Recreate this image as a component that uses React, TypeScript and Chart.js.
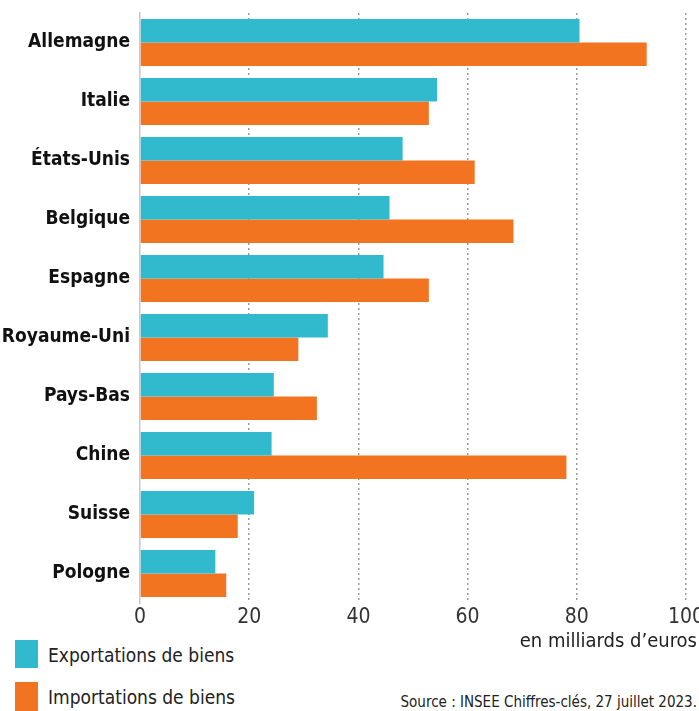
import { useEffect, useRef } from "react"
import { Chart, registerables } from "chart.js"

Chart.register(...registerables)

const countries = [
  "Allemagne",
  "Italie",
  "États-Unis",
  "Belgique",
  "Espagne",
  "Royaume-Uni",
  "Pays-Bas",
  "Chine",
  "Suisse",
  "Pologne",
]
const exportations = [80.5, 54.4, 48.1, 45.7, 44.6, 34.4, 24.5, 24.1, 20.9, 13.8]
const importations = [92.8, 52.9, 61.3, 68.4, 52.9, 29.0, 32.4, 78.1, 17.9, 15.8]
const xTicks = [0, 20, 40, 60, 80, 100]

const TEAL = "#31b9cd"
const ORANGE = "#f37420"
const FONT = "'Liberation Sans Narrow', 'DejaVu Sans Condensed', 'Roboto Condensed', sans-serif"

export default function App() {
  const canvasRef = useRef<HTMLCanvasElement>(null)
  const chartRef = useRef<Chart | null>(null)

  useEffect(() => {
    document.body.style.margin = "0"
    if (!canvasRef.current) return
    if (chartRef.current) chartRef.current.destroy()

    chartRef.current = new Chart(canvasRef.current, {
      type: "bar",
      data: {
        labels: countries,
        datasets: [
          {
            label: "Exportations de biens",
            data: exportations,
            backgroundColor: TEAL,
            barPercentage: 1,
            categoryPercentage: 0.8,
          },
          {
            label: "Importations de biens",
            data: importations,
            backgroundColor: ORANGE,
            barPercentage: 1,
            categoryPercentage: 0.8,
          },
        ],
      },
      options: {
        indexAxis: "y",
        animation: false,
        responsive: false,
        maintainAspectRatio: false,
        layout: { padding: { top: 13, right: 13, left: 0, bottom: 0 } },
        plugins: {
          legend: { display: false },
          tooltip: { enabled: false },
        },
        scales: {
          x: {
            min: 0,
            max: 100,
            afterBuildTicks: (scale) => {
              scale.ticks = xTicks.map((v) => ({ value: v }))
            },
            afterFit: (scale) => {
              scale.height = 27
              scale.paddingRight = 0
              scale.paddingLeft = 0
            },
            grid: {
              color: (ctx) => (ctx.tick && ctx.tick.value === 0 ? "rgba(0,0,0,0)" : "#9a9a9a"),
              lineWidth: 1.5,
              drawTicks: false,
            },
            border: { display: false, dash: [2, 3] },
            ticks: {
              padding: 2,
              color: "#333",
              font: { family: FONT, size: 21 },
            },
          },
          y: {
            afterFit: (scale) => {
              scale.width = 140
              scale.paddingTop = 0
              scale.paddingBottom = 0
            },
            grid: { display: false, drawTicks: false },
            border: { display: true, color: "#c8c8c8", width: 1.5 },
            ticks: {
              padding: 10,
              color: "#111",
              font: { family: FONT, size: 19, weight: "bold" },
            },
          },
        },
      },
    })

    return () => {
      if (chartRef.current) {
        chartRef.current.destroy()
        chartRef.current = null
      }
    }
  }, [])

  const legendText: React.CSSProperties = {
    position: "absolute",
    left: 48,
    fontFamily: FONT,
    fontSize: 19,
    color: "#222",
    whiteSpace: "nowrap",
  }

  return (
    <div style={{ position: "relative", width: 699, height: 711, overflow: "hidden", background: "#fff" }}>
      <canvas ref={canvasRef} width={699} height={630} style={{ position: "absolute", left: 0, top: 0 }} />
      <div style={{ position: "absolute", left: 15, top: 640, width: 23, height: 28, background: TEAL }} />
      <div style={{ ...legendText, top: 644 }}>Exportations de biens</div>
      <div style={{ position: "absolute", left: 15, top: 682, width: 23, height: 29, background: ORANGE }} />
      <div style={{ ...legendText, top: 686 }}>Importations de biens</div>
      <div
        style={{
          position: "absolute",
          right: 2,
          top: 628,
          fontFamily: FONT,
          fontSize: 20,
          color: "#222",
          whiteSpace: "nowrap",
        }}
      >
        en milliards d’euros
      </div>
      <div
        style={{
          position: "absolute",
          right: 2,
          top: 693,
          fontFamily: FONT,
          fontSize: 15,
          color: "#222",
          whiteSpace: "nowrap",
        }}
      >
        Source : INSEE Chiffres-clés, 27 juillet 2023.
      </div>
    </div>
  )
}
